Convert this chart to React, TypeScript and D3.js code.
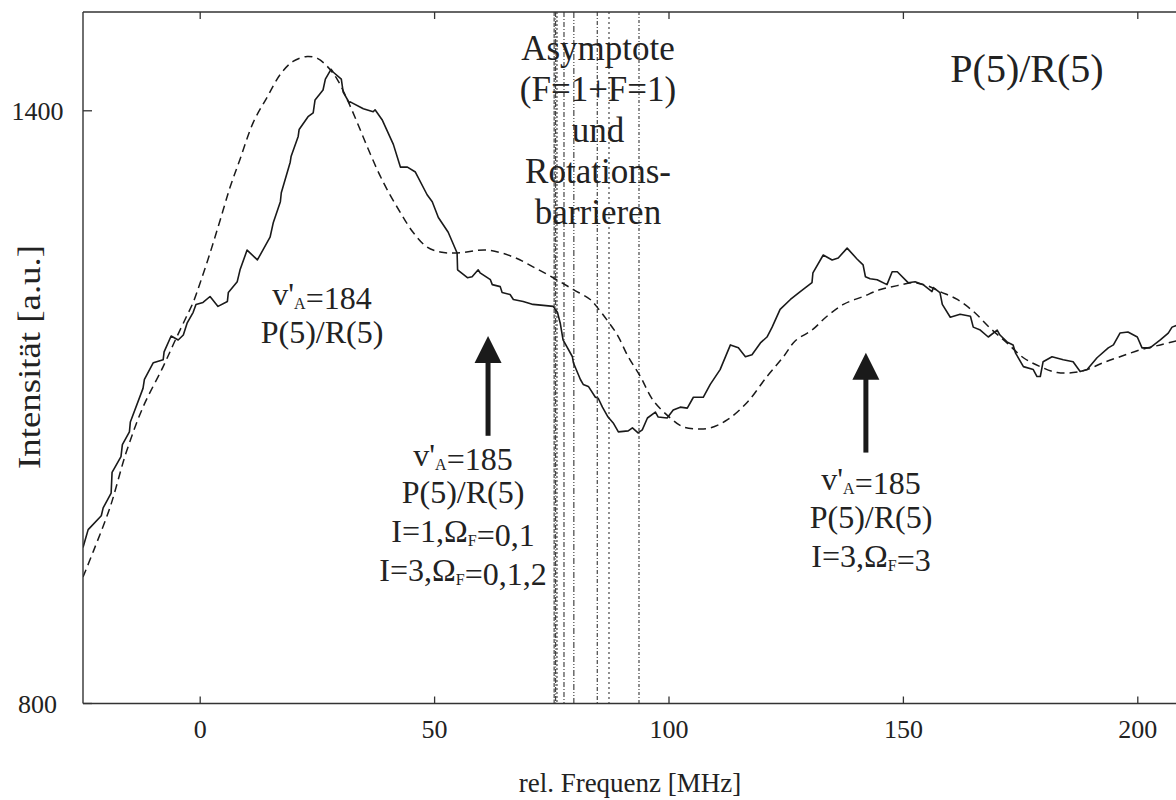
import React from "react";
import * as d3 from "d3";

const measured: [number, number][] = [
  [-25.0, 958], [-23.9, 976], [-21.1, 990], [-20.7, 998], [-19.0, 1013], [-18.8, 1034], [-16.9, 1050], [-16.6, 1062],
  [-15.1, 1075], [-14.9, 1085], [-12.2, 1119], [-11.9, 1128], [-10.0, 1145], [-7.9, 1148], [-7.7, 1156], [-6.2, 1172],
  [-4.7, 1168], [-3.6, 1173], [-2.8, 1185], [-1.5, 1196], [-0.9, 1204], [0.6, 1206], [2.1, 1212], [3.8, 1202],
  [5.8, 1207], [6.0, 1216], [7.9, 1227], [8.5, 1239], [10.0, 1259], [12.2, 1249], [14.9, 1272], [15.6, 1287],
  [17.1, 1308], [17.3, 1317], [19.2, 1348], [19.4, 1354], [20.9, 1374], [21.1, 1381], [23.0, 1394], [24.1, 1398],
  [24.5, 1411], [26.2, 1421], [26.7, 1432], [27.9, 1442], [28.4, 1439], [30.1, 1432], [30.5, 1419], [31.8, 1408],
  [32.0, 1409], [34.8, 1402], [36.9, 1399], [37.3, 1401], [38.8, 1391], [41.2, 1366], [42.7, 1343], [44.2, 1343],
  [45.9, 1338], [48.4, 1315], [49.5, 1308], [50.8, 1292], [52.9, 1277], [54.8, 1256], [54.9, 1239], [57.0, 1231],
  [58.0, 1232], [59.3, 1239], [59.7, 1236], [61.9, 1229], [62.3, 1224], [64.0, 1222], [64.4, 1216], [66.1, 1214],
  [66.8, 1209], [68.9, 1207], [71.0, 1204], [73.2, 1203], [75.3, 1202], [76.2, 1196], [76.8, 1185], [77.4, 1168],
  [79.4, 1151], [79.6, 1145], [81.1, 1128], [81.7, 1123], [82.8, 1121], [84.3, 1110], [84.9, 1109], [85.8, 1100],
  [87.0, 1090], [88.1, 1084], [89.2, 1075], [91.3, 1076], [92.2, 1079], [93.4, 1074], [94.3, 1077], [95.4, 1089],
  [97.1, 1095], [97.7, 1090], [99.6, 1089], [100.9, 1097], [102.4, 1100], [103.9, 1099], [105.2, 1110], [107.3, 1110],
  [108.8, 1123], [110.9, 1138], [113.1, 1163], [114.8, 1160], [116.3, 1151], [117.7, 1153], [119.5, 1165], [120.9, 1171],
  [122.0, 1181], [123.7, 1199], [125.9, 1209], [128.0, 1217], [130.5, 1226], [130.7, 1236], [132.9, 1254], [134.8, 1249],
  [136.1, 1251], [138.0, 1261], [140.1, 1250], [141.4, 1244], [141.9, 1232], [142.9, 1230], [144.4, 1229], [146.5, 1224],
  [147.6, 1237], [148.7, 1237], [151.0, 1226], [152.5, 1227], [154.2, 1224], [156.1, 1217], [156.4, 1221], [157.8, 1216],
  [158.3, 1204], [160.0, 1191], [162.1, 1194], [164.3, 1192], [164.9, 1181], [166.4, 1178], [168.1, 1171], [170.0, 1178],
  [170.6, 1173], [172.1, 1166], [173.4, 1163], [173.9, 1155], [175.6, 1141], [177.7, 1138], [178.5, 1131], [179.2, 1131],
  [179.8, 1146], [181.7, 1151], [184.1, 1148], [186.2, 1146], [187.7, 1136], [189.2, 1138], [191.3, 1150], [193.7, 1160],
  [194.8, 1163], [196.2, 1175], [197.9, 1176], [199.9, 1171], [200.9, 1160], [202.6, 1160], [204.8, 1168], [206.5, 1175],
  [207.3, 1181], [208.4, 1183],
];

const fitted: [number, number][] = [
  [-25.0, 928], [-22.8, 954], [-19.2, 999], [-15.8, 1054], [-12.2, 1100], [-7.9, 1141], [-5.3, 1168], [-3.0, 1191],
  [-1.5, 1206], [0, 1226], [2.1, 1256], [4.3, 1290], [6.4, 1323], [8.5, 1351], [11.3, 1388], [14.3, 1414],
  [17.1, 1437], [19.8, 1450], [22.8, 1455], [25.0, 1453], [27.1, 1445], [29.2, 1432], [31.4, 1411], [33.5, 1388],
  [35.6, 1364], [37.8, 1340], [39.9, 1320], [42.7, 1297], [45.4, 1277], [48.4, 1262], [51.2, 1257], [54.8, 1256],
  [61.2, 1259], [66.8, 1252], [71.0, 1242], [75.3, 1231], [79.6, 1219], [83.2, 1209], [84.7, 1201], [86.8, 1188],
  [89.0, 1173], [91.3, 1151], [93.9, 1131], [96.6, 1107], [100.3, 1089], [103.0, 1080], [106.0, 1078], [108.8, 1079],
  [112.4, 1087], [116.7, 1105], [120.9, 1131], [124.4, 1151], [126.9, 1167], [130.5, 1178], [133.7, 1192], [137.2, 1204],
  [141.4, 1212], [145.1, 1219], [148.7, 1223], [152.1, 1226], [155.1, 1223], [157.8, 1217], [161.5, 1209], [164.9, 1197],
  [168.5, 1180], [172.1, 1165], [175.6, 1150], [179.2, 1141], [182.8, 1135], [186.2, 1135], [189.2, 1138], [192.6, 1145],
  [196.2, 1151], [200.5, 1158], [204.8, 1163], [208.2, 1167],
];

const barrierLines: number[] = [75.5, 75.8, 76.1, 77.6, 79.7, 84.7, 87.2, 93.6];
const barrierDash: string[] = ["4,1.5", "5,1.5,1,1.5", "2,2", "5,2,1,2", "6,2,1,2,1,2", "4,2,1,2", "2,3", "3,2,1,2"];

const xTicks: number[] = [0, 50, 100, 150, 200];
const yTicks: number[] = [800, 1400];

const FONT = "'Liberation Serif', 'Times New Roman', serif";

export default function App() {
  const W = 1176, H = 800;
  const left = 83, top = 12, bottom = 703.5;
  const x = d3.scaleLinear().domain([-25, 210]).range([left, left + 235 * 4.688]);
  const y = d3.scaleLinear().domain([800, 1500]).range([bottom, top]);

  const lineSolid = d3.line<[number, number]>().x(d => x(d[0])).y(d => y(d[1]));
  const lineFit = d3.line<[number, number]>().x(d => x(d[0])).y(d => y(d[1])).curve(d3.curveCatmullRom.alpha(0.5));

  const ink = "#1a1a1a";
  const axisInk = "#333";

  const arrow = (xv: number, tipV: number, baseV: number) => {
    const tx = x(xv), ty = y(tipV), by = y(baseV);
    const headBase = ty + 27;
    return (
      <g>
        <line x1={tx} x2={tx} y1={headBase - 2} y2={by} stroke={ink} strokeWidth={5} />
        <path d={`M${tx},${ty} L${tx - 13.5},${headBase} L${tx + 13.5},${headBase} Z`} fill={ink} />
      </g>
    );
  };

  const fs = 32;
  const sub = (s: string) => (
    <tspan fontSize={fs * 0.5} dy={4}>{s}</tspan>
  );
  const back = <tspan dy={-4}></tspan>;

  return (
    <svg width={W} height={H} style={{ position: "absolute", left: 0, top: 0, background: "#fff" }} fontFamily={FONT}>
      <defs>
        <clipPath id="plot">
          <rect x={left} y={top} width={W - left} height={bottom - top} />
        </clipPath>
      </defs>
      <rect x={0} y={0} width={W} height={H} fill="#fff" />

      <g clipPath="url(#plot)">
        {barrierLines.map((b, i) => (
          <line key={i} x1={x(b)} x2={x(b)} y1={top} y2={bottom} stroke="#444" strokeWidth={1.2} strokeDasharray={barrierDash[i]} />
        ))}
        <path d={lineFit(fitted) || ""} fill="none" stroke={ink} strokeWidth={1.5} strokeDasharray="8,5" />
        <path d={lineSolid(measured) || ""} fill="none" stroke={ink} strokeWidth={1.6} strokeLinejoin="round" />
      </g>

      <line x1={left} x2={W} y1={top} y2={top} stroke={axisInk} strokeWidth={1.4} />
      <line x1={left} x2={W} y1={bottom} y2={bottom} stroke={axisInk} strokeWidth={1.4} />
      <line x1={left} x2={left} y1={top} y2={bottom} stroke={axisInk} strokeWidth={1.4} />

      {xTicks.map(t => (
        <g key={t}>
          <line x1={x(t)} x2={x(t)} y1={bottom} y2={bottom - 7} stroke={axisInk} strokeWidth={1.3} />
          <line x1={x(t)} x2={x(t)} y1={top} y2={top + 7} stroke={axisInk} strokeWidth={1.3} />
          <text x={x(t)} y={bottom + 34} textAnchor="middle" fontSize={26} fill="#222">{t}</text>
        </g>
      ))}
      {yTicks.map(t => (
        <g key={t}>
          <line x1={left} x2={left + 9} y1={y(t)} y2={y(t)} stroke={axisInk} strokeWidth={1.3} />
          <text x={37.5} y={y(t) + 9} textAnchor="middle" fontSize={26} fill="#222">{t}</text>
        </g>
      ))}

      <text x={630} y={792} textAnchor="middle" fontSize={27} fill="#222">rel. Frequenz [MHz]</text>
      <text transform={`translate(40,${357}) rotate(-90)`} textAnchor="middle" fontSize={32} textLength={224} lengthAdjust="spacingAndGlyphs" fill="#222">Intensität [a.u.]</text>

      <text x={1027} y={82} textAnchor="middle" fontSize={40} fill="#222">P(5)/R(5)</text>

      <g fontSize={35} fill="#222" textAnchor="middle">
        <text x={598} y={60}>Asymptote</text>
        <text x={598} y={101}>(F=1+F=1)</text>
        <text x={598} y={142}>und</text>
        <text x={598} y={183}>Rotations-</text>
        <text x={598} y={224}>barrieren</text>
      </g>

      <g fontSize={fs} fill="#222" textAnchor="middle">
        <text x={322} y={305}>v'{sub("A")}{back}=184</text>
        <text x={322} y={343}>P(5)/R(5)</text>

        <text x={463} y={466}>v'{sub("A")}{back}=185</text>
        <text x={463} y={503}>P(5)/R(5)</text>
        <text x={463} y={542}>I=1,Ω{sub("F")}{back}=0,1</text>
        <text x={463} y={581}>I=3,Ω{sub("F")}{back}=0,1,2</text>

        <text x={871} y={490}>v'{sub("A")}{back}=185</text>
        <text x={871} y={528}>P(5)/R(5)</text>
        <text x={871} y={567}>I=3,Ω{sub("F")}{back}=3</text>
      </g>

      {arrow(61.4, 1172, 1071)}
      {arrow(142.0, 1155, 1054)}
    </svg>
  );
}
